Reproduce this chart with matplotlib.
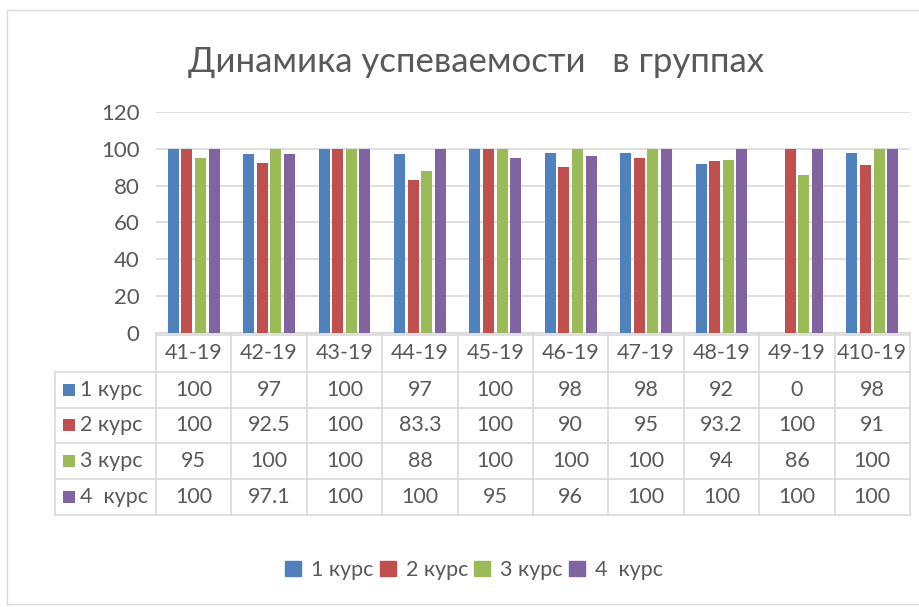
"""
Bar chart with data table: dynamics of academic performance by group
"""

import numpy as np
import matplotlib.pyplot as plt
from matplotlib.patches import Rectangle

groups = ['41-19', '42-19', '43-19', '44-19', '45-19', '46-19', '47-19', '48-19', '49-19', '410-19']
series_names = ['1 курс', '2 курс', '3 курс', '4  курс']
course1 = [100, 97, 100, 97, 100, 98, 98, 92, 0, 98]
course2 = [100, 92.5, 100, 83.3, 100, 90, 95, 93.2, 100, 91]
course3 = [95, 100, 100, 88, 100, 100, 100, 94, 86, 100]
course4 = [100, 97.1, 100, 100, 95, 96, 100, 100, 100, 100]
colors = ['#4F81BD', '#C0504D', '#9BBB59', '#8064A2']

plt.rcParams['font.family'] = ['Lato', 'DejaVu Sans']
TEXT = '#595959'
GRID = '#d9d9d9'

W, H = 919, 607
fig = plt.figure(figsize=(W / 100, H / 100), dpi=100)

# chart frame
fig.patches.append(Rectangle((7 / W, 1 - 604 / H), 1.0, (604 - 10) / H,
                             transform=fig.transFigure, fill=False,
                             edgecolor=GRID, linewidth=1))

# plot area in pixel coordinates of the reference
x0, x1, y_top, y_bot = 156, 910, 112, 333
ax = fig.add_axes([x0 / W, 1 - y_bot / H, (x1 - x0) / W, (y_bot - y_top) / H])

values = [course1, course2, course3, course4]
x = np.arange(len(groups))
bw = 0.145
step = 0.18
for i, (vals, c) in enumerate(zip(values, colors)):
    ax.bar(x + (i - 1.5) * step, vals, width=bw, color=c, zorder=3)

ax.set_xlim(-0.5, len(groups) - 0.5)
ax.set_ylim(0, 120)
ax.set_yticks(range(0, 121, 20))
ax.yaxis.grid(True, color=GRID, linewidth=1.2, zorder=0)
for s in ['top', 'right', 'left']:
    ax.spines[s].set_visible(False)
ax.spines['bottom'].set_color(GRID)
ax.spines['bottom'].set_linewidth(1.2)
ax.tick_params(axis='y', length=0, labelsize=16, labelcolor=TEXT, pad=12)
ax.tick_params(axis='x', length=0, labelbottom=False)

# data table drawn below the axes
ph = y_bot - y_top
pw = x1 - x0
def ay(py):
    return -(py - y_bot) / ph
def axx(px):
    return (px - x0) / pw

rows = [335, 372, 408, 443, 479, 515]
left_px = 55
line_kw = dict(color=GRID, linewidth=1.2, transform=ax.transAxes, clip_on=False)
# horizontal lines
for j, r in enumerate(rows):
    xs = axx(x0) if j == 0 else axx(left_px)
    ax.plot([xs, 1], [ay(r), ay(r)], **line_kw)
# vertical lines
col_edges = np.linspace(0, 1, len(groups) + 1)
for e in col_edges:
    ax.plot([e, e], [ay(y_bot), ay(rows[-1])], **line_kw)
ax.plot([axx(left_px)] * 2, [ay(rows[1]), ay(rows[-1])], **line_kw)

FS = 15.5
centers = (col_edges[:-1] + col_edges[1:]) / 2
hy = ay((rows[0] + rows[1]) / 2)
for cx, g in zip(centers, groups):
    ax.text(cx, hy, g, transform=ax.transAxes, ha='center', va='center',
            fontsize=FS, color=TEXT)
for k, (name, vals, c) in enumerate(zip(series_names, values, colors)):
    ry = ay((rows[k + 1] + rows[k + 2]) / 2)
    sq = 12
    ax.add_patch(Rectangle((axx(63), ry - (sq / 2) / ph), sq / pw, sq / ph,
                           transform=ax.transAxes, facecolor=c, clip_on=False))
    ax.text(axx(80), ry, name, transform=ax.transAxes, ha='left', va='center',
            fontsize=FS, color=TEXT)
    for cx, v in zip(centers, vals):
        ax.text(cx, ry, f'{v:g}', transform=ax.transAxes, ha='center',
                va='center', fontsize=FS, color=TEXT)

fig.text(476 / W, 1 - 62 / H, 'Динамика успеваемости   в группах',
         ha='center', va='center', fontsize=25, color=TEXT)

handles = [Rectangle((0, 0), 1, 1, color=c) for c in colors]
fig.legend(handles, series_names, loc='center', bbox_to_anchor=(474 / W, 1 - 570 / H),
           ncol=4, frameon=False, fontsize=15.5, handlelength=0.75, handleheight=0.75,
           handletextpad=0.45, columnspacing=0.3, labelcolor=TEXT)

fig.savefig('out.png', dpi=100)
